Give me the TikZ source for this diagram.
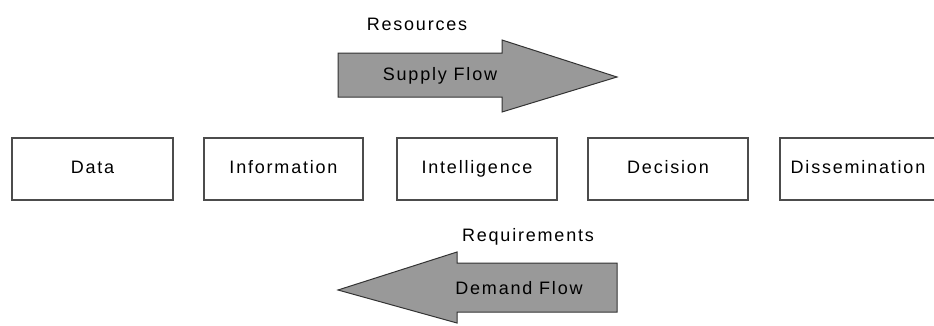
\documentclass[tikz,border=0pt]{standalone}
\usepackage{fontspec}
\setmainfont{Liberation Sans}[LetterSpace=10]
\begin{document}
\begin{tikzpicture}[x=1pt,y=-1pt,
  lbl/.style={font=\fontsize{18}{21}\selectfont, text=black, inner sep=0pt, text height=13pt, text depth=4pt},
  stage/.style={draw=black!70, line width=1.2pt, fill=white, minimum height=62pt, inner sep=0pt, font=\fontsize{18}{21}\selectfont, text=black, text height=13pt, text depth=4pt},
  flowarrow/.style={draw=black!80, line width=1pt, fill=black!40, line join=miter}]
\useasboundingbox (0,0) rectangle (934,325);
% stages
\node[stage, minimum width=161pt] (data) at (92.5,169) {Data};
\node[stage, minimum width=159pt] (info) at (283.5,169) {Information};
\node[stage, minimum width=160pt] (intel) at (477,169) {Intelligence};
\node[stage, minimum width=160pt] (dec) at (668,169) {Decision};
\node[stage, minimum width=156pt] (diss) at (858,169) {Dissemination};
% supply arrow
\draw[flowarrow] (338,53) -- (502,53) -- (502,40) -- (617,77) -- (502,112) -- (502,97) -- (338,97) -- cycle;
\node[lbl] (supply) at (440,76) {Supply Flow};
\node[lbl] (res) at (417,26) {Resources};
% demand arrow
\draw[flowarrow] (617,263) -- (457,263) -- (457,252) -- (338,290) -- (457,323) -- (457,312) -- (617,312) -- cycle;
\node[lbl] (demand) at (519,290) {Demand Flow};
\node[lbl] (req) at (528,237) {Requirements};
\end{tikzpicture}
\end{document}
